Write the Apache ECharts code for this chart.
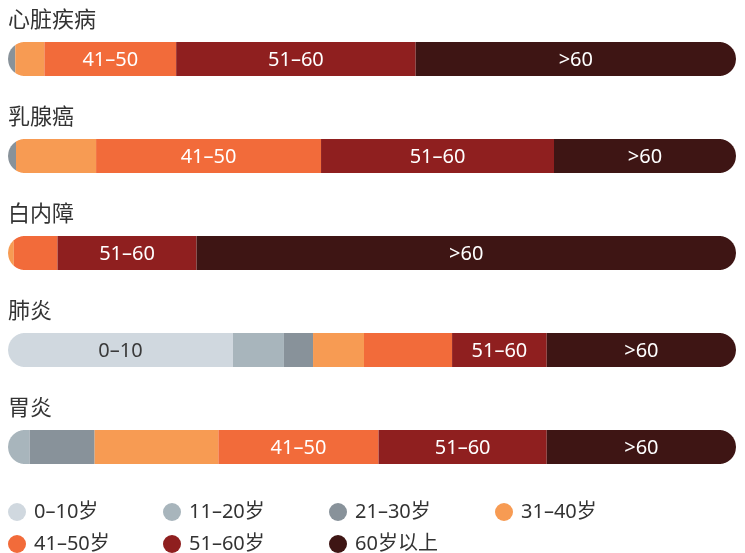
<!DOCTYPE html>
<html>
<head>
<meta charset="utf-8">
<script src="https://cdn.jsdelivr.net/npm/echarts@6/dist/echarts.min.js"></script>
<style>html,body{margin:0;padding:0;background:#fff}#c{width:745px;height:553px}</style>
</head>
<body>
<div id="c"></div>
<script>
const categories = ['心脏疾病', '乳腺癌', '白内障', '肺炎', '胃炎'];
const ageGroups = ['0–10岁', '11–20岁', '21–30岁', '31–40岁', '41–50岁', '51–60岁', '60岁以上'];
const segmentLabels = ['0–10', '11–20', '21–30', '31–40', '41–50', '51–60', '>60'];
const v0_10  = [0,    0,    0,    30.9, 0];
const v11_20 = [0,    0,    0,    7.0,  3.0];
const v21_30 = [1.0,  1.1,  0,    4.0,  8.9];
const v31_40 = [4.0,  11.0, 0.8,  7.0,  17.0];
const v41_50 = [18.1, 30.9, 6.0,  12.1, 22.0];
const v51_60 = [32.9, 32.0, 19.1, 13.0, 23.1];
const v60p   = [44.0, 25.0, 74.1, 26.0, 26.0];
const colors = ['#d0d8df', '#a8b5bc', '#88929a', '#f79b53', '#f26b3a', '#8f1f1f', '#3e1514'];

const values = [v0_10, v11_20, v21_30, v31_40, v41_50, v51_60, v60p];

const FONT = '"Noto Sans", "Noto Sans CJK SC", sans-serif';
const BAR_H = 34;

function showLabel(k, i) {
  const v = values[k][i];
  if (v < 10) return false;
  const col = values.map(a => a[i]).sort((a, b) => b - a);
  return v >= col[2];
}

function renderItem(params, api) {
  const s = api.value(0), e = api.value(1), ci = api.value(2), k = api.value(3), lab = api.value(4);
  if (!(e > s)) return null;
  const a = api.coord([s, ci]), b = api.coord([e, ci]);
  const L = api.coord([0, ci])[0], R = api.coord([100, ci])[0];
  const r = BAR_H / 2, cy = a[1];
  const half = x => {
    if (x < L + r) { const d = L + r - x; return Math.sqrt(Math.max(0, r * r - d * d)); }
    if (x > R - r) { const d = x - (R - r); return Math.sqrt(Math.max(0, r * r - d * d)); }
    return r;
  };
  const xs = [a[0]];
  for (let x = Math.floor(a[0]) + 0.5; x < b[0]; x += 0.5) if (x > a[0]) xs.push(x);
  xs.push(b[0]);
  const top = xs.map(x => [x, cy - half(x)]);
  const bot = xs.slice().reverse().map(x => [x, cy + half(x)]);
  const el = {
    type: 'polygon',
    shape: { points: top.concat(bot) },
    style: { fill: api.visual('color') }
  };
  if (lab) {
    el.textContent = {
      style: {
        text: segmentLabels[k],
        fill: k === 0 ? '#3a3a3a' : '#ffffff',
        fontSize: 20,
        fontFamily: FONT
      }
    };
    el.textConfig = { position: 'inside', offset: [0, 1] };
  }
  return el;
}

const series = values.map((arr, k) => ({
  type: 'custom',
  name: ageGroups[k],
  itemStyle: { color: colors[k] },
  renderItem: renderItem,
  encode: { x: [0, 1], y: 2 },
  data: categories.map((c, i) => {
    let start = 0;
    for (let j = 0; j < k; j++) start += values[j][i];
    return [start, start + arr[i], i, k, showLabel(k, i) ? 1 : 0];
  })
}));

const legendCols = [[0, 4], [1, 5], [2, 6], [3]];
const legendLefts = [8, 163, 329, 495];
const legends = legendCols.map((idx, c) => ({
  orient: 'vertical',
  left: legendLefts[c],
  top: 502,
  height: 60,
  padding: 0,
  itemGap: 12,
  itemWidth: 18,
  itemHeight: 18,
  icon: 'circle',
  selectedMode: false,
  data: idx.map(i => ageGroups[i]),
  textStyle: { fontSize: 20, lineHeight: 18, color: '#333', fontFamily: FONT, padding: [0, 0, 0, 3] }
}));

const chart = echarts.init(document.getElementById('c'), null, { renderer: 'canvas' });
chart.setOption({
  animation: false,
  grid: { left: 8, right: 9, top: 10.5, bottom: 57.5 },
  xAxis: { type: 'value', min: 0, max: 100, show: false },
  yAxis: {
    type: 'category',
    inverse: true,
    data: categories,
    axisLine: { show: false },
    axisTick: { show: false },
    splitLine: { show: false },
    axisLabel: {
      inside: true,
      margin: 0,
      formatter: v => '{t|' + v + '}',
      rich: {
        t: { fontSize: 22, color: '#333', fontFamily: '"Noto Sans CJK SC", sans-serif', padding: [0, 0, 80, 0] }
      }
    }
  },
  legend: legends,
  series: series
});
</script>
</body>
</html>
